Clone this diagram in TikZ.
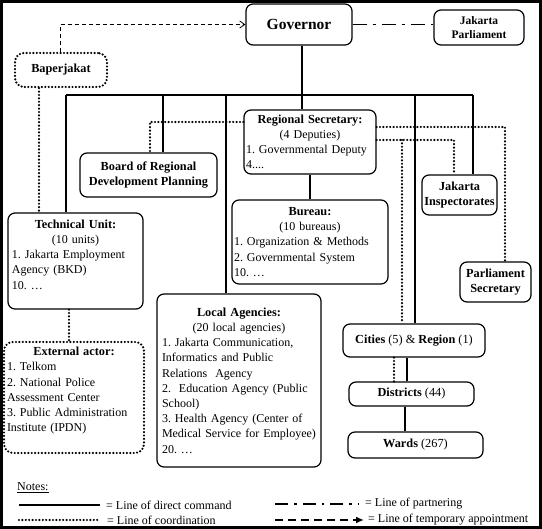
\documentclass[tikz,border=0pt]{standalone}
\usepackage{fontspec}
\setmainfont{Liberation Serif}
\frenchspacing
\usetikzlibrary{arrows.meta}
\tikzset{
  box/.style={draw,rounded corners=7pt,line width=1.2pt,inner sep=0pt,
    font=\fontsize{12}{15.2}\selectfont},
  headbox/.style={box,align=center,font=\fontsize{12.3}{15}\selectfont\bfseries},
  listbox/.style={box,align=left},
  dotline/.style={line width=2.4pt,line cap=round,dash pattern=on 0pt off 3.4pt},
  command/.style={line width=1.8pt},
  partnering/.style={line width=1.8pt,dash pattern=on 14pt off 6pt on 3pt off 6pt},
  appointment/.style={line width=0.8pt,dash pattern=on 4pt off 3pt,
    -{Straight Barb[length=5pt,width=7pt]}},
  notetext/.style={anchor=west,inner sep=0pt,font=\fontsize{12}{15}\selectfont},
}
\begin{document}
\begin{tikzpicture}[x=1pt,y=-1pt]
  \useasboundingbox (0,0) rectangle (542,529);
  \draw[line width=3pt] (1.5,1.5) rectangle (540.5,527.5);

  \node[headbox,minimum width=106pt,minimum height=41pt,
    font=\fontsize{15.5}{17}\selectfont\bfseries] (gov) at (299,24.5) {Governor};
  \node[headbox,minimum width=90pt,minimum height=35pt,
    font=\fontsize{11.5}{14}\selectfont\bfseries] (parl) at (479,27.5) {Jakarta\\Parliament};
  \node[headbox,dotline,rounded corners=9pt,minimum width=92pt,minimum height=34pt]
    (baper) at (61,70) {Baperjakat};
  \node[listbox,minimum width=132pt,minimum height=64pt,text width=128pt] (rs) at (310,142)
    {{\centering\fontsize{12.3}{15.2}\selectfont\bfseries Regional Secretary:\\
     \fontsize{12}{15.2}\selectfont\mdseries (4 Deputies)\par}
     1. Governmental Deputy\\
     4....};
  \node[headbox,minimum width=137pt,minimum height=44pt] (board) at (148.5,175)
    {Board of Regional\\Development Planning};
  \node[listbox,minimum width=156pt,minimum height=84pt,text width=152pt] (bureau) at (310,242)
    {{\centering\fontsize{12.3}{15.2}\selectfont\bfseries Bureau:\\
     \fontsize{12}{15.2}\selectfont\mdseries (10 bureaus)\par}
     1. Organization \& Methods\\
     2. Governmental System\\
     10. \dots};
  \node[listbox,minimum width=135pt,minimum height=96pt,text width=127pt] (tech) at (75.5,261)
    {{\centering\fontsize{12.3}{15.2}\selectfont\bfseries Technical Unit:\\
     \fontsize{12}{15.2}\selectfont\mdseries (10 units)\par}
     1. Jakarta Employment\\
     Agency (BKD)\\
     10. \dots\rule[-13pt]{0pt}{0pt}};
  \node[headbox,minimum width=75pt,minimum height=40pt] (insp) at (459.5,195)
    {Jakarta\\Inspectorates};
  \node[headbox,minimum width=71pt,minimum height=40pt] (psec) at (495.5,282)
    {Parliament\\Secretary};
  \node[listbox,dotline,rounded corners=9pt,minimum width=140pt,minimum height=111pt,
    text width=134pt] (ext) at (74,397.5)
    {{\centering\fontsize{12.3}{15.2}\selectfont\bfseries External actor:\par}
     1. Telkom\\
     2. National Police\\
     Assessment Center\\
     3. Public Administration\\
     Institute (IPDN)\rule[-16pt]{0pt}{0pt}};
  \node[listbox,minimum width=164pt,minimum height=173pt,text width=154pt] (local) at (239,380.5)
    {{\centering\fontsize{12.3}{15.2}\selectfont\bfseries Local Agencies:\\
     \fontsize{12}{15.2}\selectfont\mdseries (20 local agencies)\par}
     1. Jakarta Communication,\\
     Informatics and Public\\
     Relations\ \ Agency\\
     2.\ \ Education Agency (Public\\
     School)\\
     3. Health Agency (Center of\\
     Medical Service for Employee)\\
     20. \dots};
  \node[headbox,minimum width=142pt,minimum height=33pt] (cities) at (414,340.5)
    {Cities \mdseries(5) \& \bfseries Region \mdseries(1)};
  \node[headbox,minimum width=125pt,minimum height=24pt] (dist) at (411.5,394)
    {Districts \mdseries(44)};
  \node[headbox,minimum width=135pt,minimum height=26pt] (wards) at (415.5,445)
    {Wards \mdseries(267)};

  \coordinate (b0) at (66,95);
  \coordinate (b1) at (163,95);
  \coordinate (b2) at (226,95);
  \coordinate (bg) at (302,95);
  \coordinate (b3) at (415,95);
  \coordinate (b4) at (473,95);
  \coordinate (c1) at (402,140);

  \begin{scope}[command]
    \draw (b0) -- (b4);
    \draw (gov.south -| bg) -- (rs.north -| bg);
    \draw (b0) -- (tech.north -| b0);
    \draw (b1) -- (board.north -| b1);
    \draw (b2) -- (local.north -| b2);
    \draw (b3) -- (cities.north -| b3);
    \draw (b4) -- (insp.north -| b4);
    \draw (rs.south) -- (bureau.north);
    \draw ([xshift=-7pt]cities.south) -- ([xshift=-4.5pt]dist.north);
    \draw ([xshift=-6.5pt]dist.south) -- ([xshift=-10.5pt]wards.north);
  \end{scope}

  \begin{scope}[dotline]
    \draw ([xshift=-22pt]baper.south) -- ([xshift=-36.5pt]tech.north);
    \draw ([xshift=-6.5pt]tech.south) -- ([xshift=-5pt]ext.north);
    \draw ([yshift=20pt]rs.west) -| ([xshift=1.5pt]board.north);
    \draw ([yshift=15pt]rs.east) -| ([xshift=9.5pt]psec.north);
    \draw ([yshift=2pt]rs.east) -| ([xshift=-5.5pt]insp.north);
    \draw (c1) -- (cities.north -| c1);
    \draw ([xshift=-20pt]cities.south) -- ([xshift=-17.5pt]dist.north);
  \end{scope}

  \draw[appointment] ([xshift=-1pt]baper.north) |- (gov.west);
  \draw[partnering] (gov.east) -- (gov.east -| parl.west);

  \node[notetext] (notes) at (17,488) {\underline{Notes:}};
  \node[notetext] (t1) at (106,505) {= Line of direct command};
  \node[notetext] (t2) at (107,520) {= Line of coordination};
  \node[notetext] (t3) at (365,504) {= Line of partnering};
  \node[notetext] (t4) at (368,520) {= Line of temporary appointment};
  \coordinate (n1) at (19,505);
  \coordinate (n2) at (19,520);
  \coordinate (n3) at (275,504);
  \coordinate (n4) at (275,520);
  \draw[command] (n1) -- ([xshift=-6pt]t1.west);
  \draw[dotline] (n2) -- ([xshift=-8pt]t2.west);
  \draw[partnering,dash pattern=on 13pt off 6pt on 2.5pt off 6pt] (n3) -- ([xshift=-7pt]t3.west);
  \draw[line width=1.8pt,dash pattern=on 8pt off 5pt,-{Latex[length=8pt,width=7pt]}]
    (n4) -- ([xshift=-4pt]t4.west);
\end{tikzpicture}
\end{document}
